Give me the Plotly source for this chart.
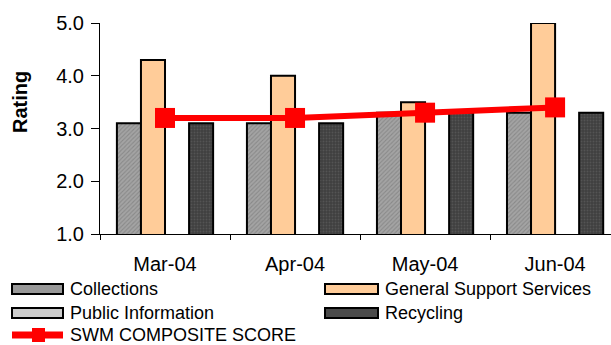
import plotly.graph_objects as go

months = ["Mar-04", "Apr-04", "May-04", "Jun-04"]
collections = [3.1, 3.1, 3.3, 3.3]
general_support = [4.3, 4.0, 3.5, 5.0]
public_information = [None, None, None, None]
recycling = [3.1, 3.1, 3.3, 3.3]
composite = [3.2, 3.2, 3.3, 3.4]

W, H = 611, 345
ML, MR, MT, MB = 100, 0, 23, 111
PW, PH = W - ML - MR, H - MT - MB

font = "Liberation Sans, Arial, sans-serif"
outline = dict(color="black", width=2)


def px(x):
    """Pixel column -> paper x."""
    return (x - ML) / PW


def py(y):
    """Pixel row -> paper y."""
    return (H - MB - y) / PH


series = [
    dict(name="Collections", y=collections, color="#9a9a9a",
         pattern=dict(shape="/", fgcolor="#6e6e6e", bgcolor="#a4a4a4", size=3, solidity=0.35),
         swatch="#999999"),
    dict(name="General Support Services", y=general_support, color="#ffcc99",
         pattern=None, swatch="#ffcc99"),
    dict(name="Public Information", y=public_information, color="#cfcfcf",
         pattern=dict(shape=".", fgcolor="#b0b0b0", bgcolor="#d8d8d8", size=3, solidity=0.3),
         swatch="#cccccc"),
    dict(name="Recycling", y=recycling, color="#474747",
         pattern=dict(shape=".", fgcolor="#6a6a6a", bgcolor="#3e3e3e", size=3, solidity=0.35),
         swatch="#4a4a4a"),
]

fig = go.Figure()
for s in series:
    marker = dict(color=s["color"], line=outline)
    if s["pattern"]:
        marker["pattern"] = s["pattern"]
    fig.add_trace(go.Bar(x=months, y=s["y"], name=s["name"], marker=marker))

fig.add_trace(go.Scatter(
    x=months, y=composite, name="SWM COMPOSITE SCORE",
    mode="lines+markers",
    line=dict(color="#ff0000", width=6),
    marker=dict(symbol="square", size=20, color="#ff0000"),
))

# Two-column legend below the plot
shapes, annotations = [], []
rows = [289, 313, 335]
cols = [(12, 63, 68), (325, 378, 383)]
for i, s in enumerate(series):
    r, c = divmod(i, 2)
    x0, x1, tx = cols[c]
    yc = rows[r]
    shapes.append(dict(type="rect", xref="paper", yref="paper",
                       x0=px(x0), x1=px(x1), y0=py(yc - 5), y1=py(yc + 5),
                       fillcolor=s["swatch"], line=dict(color="black", width=2)))
    annotations.append(dict(text=s["name"], xref="paper", yref="paper",
                            x=px(tx), y=py(yc), xanchor="left", yanchor="middle",
                            showarrow=False, font=dict(size=18)))
shapes.append(dict(type="line", xref="paper", yref="paper",
                   x0=px(12), x1=px(63), y0=py(335), y1=py(335),
                   line=dict(color="#ff0000", width=7)))
shapes.append(dict(type="rect", xref="paper", yref="paper",
                   x0=px(32), x1=px(45), y0=py(342), y1=py(328),
                   fillcolor="#ff0000", line=dict(width=0)))
annotations.append(dict(text="SWM COMPOSITE SCORE", xref="paper", yref="paper",
                        x=px(68), y=py(rows[2]), xanchor="left", yanchor="middle",
                        showarrow=False, font=dict(size=18)))

# Axis title
annotations.append(dict(text="<b>Rating</b>", xref="paper", yref="paper",
                        x=px(20), y=py(102), xanchor="center", yanchor="middle",
                        textangle=-90, showarrow=False, font=dict(size=20)))

fig.update_layout(
    width=W, height=H,
    margin=dict(l=ML, r=MR, t=MT, b=MB, autoexpand=False),
    paper_bgcolor="white", plot_bgcolor="white",
    font=dict(family=font, color="black"),
    barmode="group", bargap=0.26, bargroupgap=0,
    showlegend=False,
    shapes=shapes, annotations=annotations,
)
fig.update_xaxes(
    type="category", range=[-0.5, 3.43],
    showline=True, linecolor="black", linewidth=1,
    ticks="outside", tickson="boundaries", ticklen=5, tickcolor="black",
    tickfont=dict(size=20), ticklabelstandoff=12, showgrid=False,
)
fig.update_yaxes(
    range=[1, 5], dtick=1, tickformat=".1f",
    showline=True, linecolor="black", linewidth=1,
    ticks="outside", ticklen=8, tickcolor="black",
    tickfont=dict(size=20), ticklabelstandoff=3, showgrid=False, zeroline=False,
)

fig.write_html("out.html")
